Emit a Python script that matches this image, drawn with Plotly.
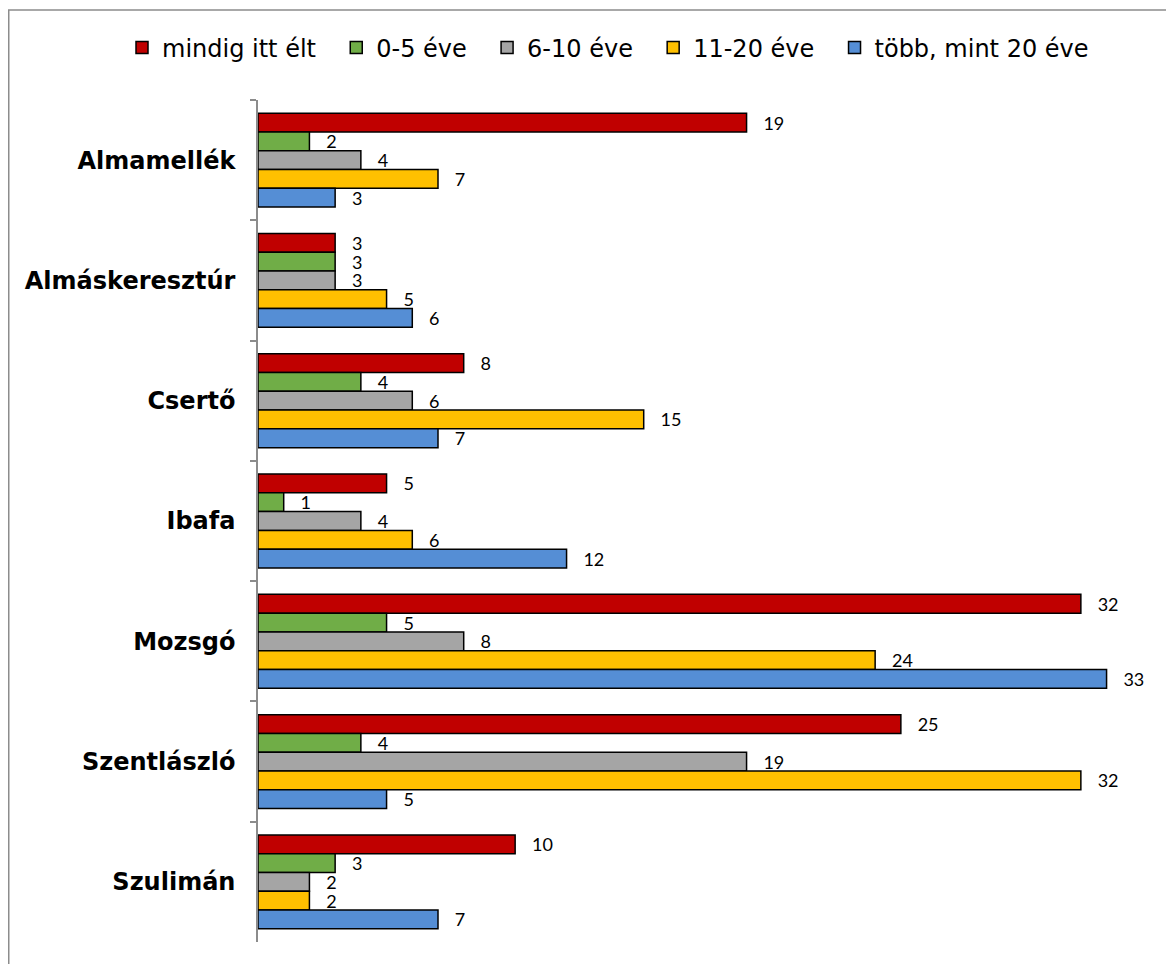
import plotly.graph_objects as go

categories = ["Almamellék", "Almáskeresztúr", "Csertő", "Ibafa", "Mozsgó", "Szentlászló", "Szulimán"]
series_names = ["mindig itt élt", "0-5 éve", "6-10 éve", "11-20 éve", "több, mint 20 éve"]
mindig = [19, 3, 8, 5, 32, 25, 10]
ev_0_5 = [2, 3, 4, 1, 5, 4, 3]
ev_6_10 = [4, 3, 6, 4, 8, 19, 2]
ev_11_20 = [7, 5, 15, 6, 24, 32, 2]
tobb_20 = [3, 6, 7, 12, 33, 5, 7]
series_values = [mindig, ev_0_5, ev_6_10, ev_11_20, tobb_20]
colors = ["#C00000", "#70AD47", "#A5A5A5", "#FFC000", "#558ED5"]

W, H = 1174, 964
ML, MR, MT, MB = 250, 24, 92, 30
pw, ph = W - ML - MR, H - MT - MB

fig = go.Figure()
n = len(series_names)
for i, (name, vals, col) in enumerate(zip(series_names, series_values, colors)):
    pad = "\u00a0\u00a0" if i < n - 1 else ""
    fig.add_trace(go.Bar(
        y=categories, x=vals, name=name + pad, orientation="h",
        marker=dict(color=col, line=dict(color="#000000", width=1.5)),
        text=["\u00a0\u00a0\u00a0" + str(v) for v in vals],
        textposition="outside", constraintext="none", cliponaxis=False,
        textfont=dict(family="Lato, Liberation Sans, sans-serif", size=18, color="#000000"),
    ))

def px2paper_x(px):
    return (px - ML) / pw

def px2paper_y(py):
    return 1 - (py - MT) / ph

fig.update_layout(
    width=W, height=H,
    margin=dict(l=ML, r=MR, t=MT, b=MB, autoexpand=False),
    paper_bgcolor="white", plot_bgcolor="white",
    barmode="group", bargap=0.22, bargroupgap=0,
    font=dict(family="DejaVu Sans, Verdana, sans-serif", color="#000000"),
    showlegend=True,
    legend=dict(
        orientation="h", traceorder="normal",
        xref="paper", yref="paper",
        x=px2paper_x(114), xanchor="left", y=px2paper_y(40), yanchor="middle",
        font=dict(family="DejaVu Sans, Verdana, sans-serif", size=24, color="#000000"),
        itemwidth=30, bgcolor="rgba(0,0,0,0)",
    ),
    xaxis=dict(
        range=[0, 35], showgrid=False, zeroline=False, showline=False,
        showticklabels=False, ticks="", fixedrange=True,
    ),
    yaxis=dict(
        type="category", autorange="reversed",
        showline=True, linecolor="#8C8C8C", linewidth=1.5,
        ticks="outside", tickson="boundaries", ticklen=6, tickcolor="#8C8C8C", tickwidth=1.5,
        ticklabelstandoff=16,
        tickfont=dict(family="DejaVu Sans, Verdana, sans-serif", size=24, color="#000000", weight="bold"),
        showgrid=False, zeroline=False,
    ),
    shapes=[dict(
        type="rect", xref="paper", yref="paper",
        x0=px2paper_x(0.75), x1=px2paper_x(W + 20),
        y0=px2paper_y(H + 20), y1=px2paper_y(2),
        line=dict(color="#8C8C8C", width=1.5), fillcolor="rgba(0,0,0,0)", layer="below",
    )],
)

fig.write_html("out.html")
